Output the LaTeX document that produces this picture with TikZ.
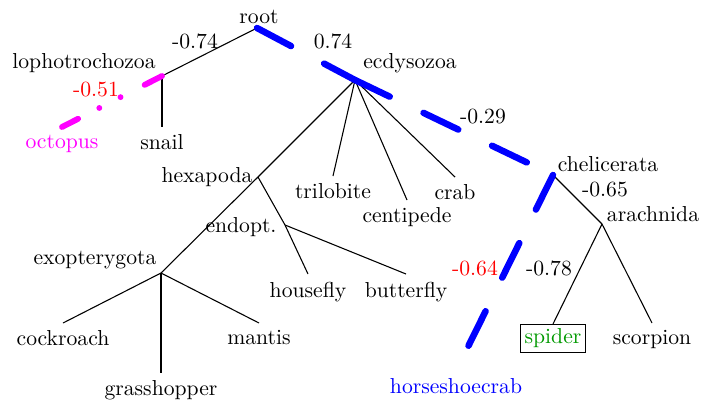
\documentclass[tikz,border=0pt]{standalone}
\usepackage{xcolor}
\usepackage{tikz}
\definecolor{octcol}{RGB}{255,0,255}
\definecolor{hotcol}{RGB}{0,0,255}
\begin{document}
\begin{tikzpicture}[x=0.4619pt,y=-0.4619pt,line width=0.5pt,
  lf/.style={anchor=north},
  lb/.style={anchor=base},
  hot/.style={hotcol,line width=3pt,line cap=round,dash pattern=on 17.8pt off 17.3pt},
  oct/.style={octcol,line width=2.7pt,line cap=round,
    dash pattern=on 9pt off 12.5pt on 0pt off 11pt on 0pt off 11pt}]
\useasboundingbox (0,0) rectangle (702,404);
% inner vertices
\coordinate (root) at (257,28);
\coordinate (lopho) at (162,76);
\coordinate (ecdy) at (355,80);
\coordinate (hexa) at (258,177);
\coordinate (endo) at (285,225);
\coordinate (exo) at (161,273);
\coordinate (cheli) at (553,175);
\coordinate (arach) at (602,224);
% their names
\node[lb] (nroot) at (259,23) {root};
\node[lb] (nlopho) at (84,68) {lophotrochozoa};
\node[lb] (necdy) at (410,68) {ecdysozoa};
\node[lb] (nhexa) at (207,182) {hexapoda};
\node[lb] (nendo) at (241,232) {endopt.};
\node[lb] (nexo) at (95,264) {exopterygota};
\node[lb] (ncheli) at (608,171) {chelicerata};
\node[lb] (narach) at (653,221) {arachnida};
% leaves
\node[lf] (snail) at (162,127) {snail};
\node[lf,octcol] (octopus) at (62,127) {octopus};
\node[lf] (trilobite) at (333,176) {trilobite};
\node[lf] (centipede) at (407,200) {centipede};
\node[lf] (crab) at (455,177) {crab};
\node[lf] (housefly) at (308,274) {housefly};
\node[lf] (butterfly) at (406,274) {butterfly};
\node[lf] (cockroach) at (63,323) {cockroach};
\node[lf] (grasshopper) at (161,373) {grasshopper};
\node[lf] (mantis) at (259,323) {mantis};
\node[lf,draw,inner sep=2pt,text=green!60!black] (spider) at (553,324) {spider};
\node[lf] (scorpion) at (652,323) {scorpion};
\node[lf,hotcol] (horseshoecrab) at (456,371) {horseshoecrab};
% weights
\node[lb] (w1) at (195,48) {-0.74};
\node[lb] (w2) at (333,48) {0.74};
\node[lb,red] (w3) at (96,96) {-0.51};
\node[lb] (w4) at (483,123) {-0.29};
\node[lb] (w5) at (605,196) {-0.65};
\node[lb,red] (w6) at (475,275) {-0.64};
\node[lb] (w7) at (549,275) {-0.78};
% edges
\draw (root) -- (lopho);
\draw (ecdy) -- (hexa);
\draw (hexa) -- (exo);
\draw (hexa) -- (endo);
\draw (cheli) -- (arach);
\foreach \a/\b in {lopho/snail,ecdy/trilobite,ecdy/centipede,ecdy/crab,
  endo/housefly,endo/butterfly,exo/cockroach,exo/grasshopper,exo/mantis,
  arach/spider,arach/scorpion}
  \draw (\a) -- (\b.north);
\draw[oct] (lopho) -- (octopus.north);
\draw[hot] (root) -- (ecdy);
\draw[hot] (ecdy) -- (cheli);
\draw[hot] (cheli) -- (horseshoecrab.north);
\end{tikzpicture}
\end{document}
